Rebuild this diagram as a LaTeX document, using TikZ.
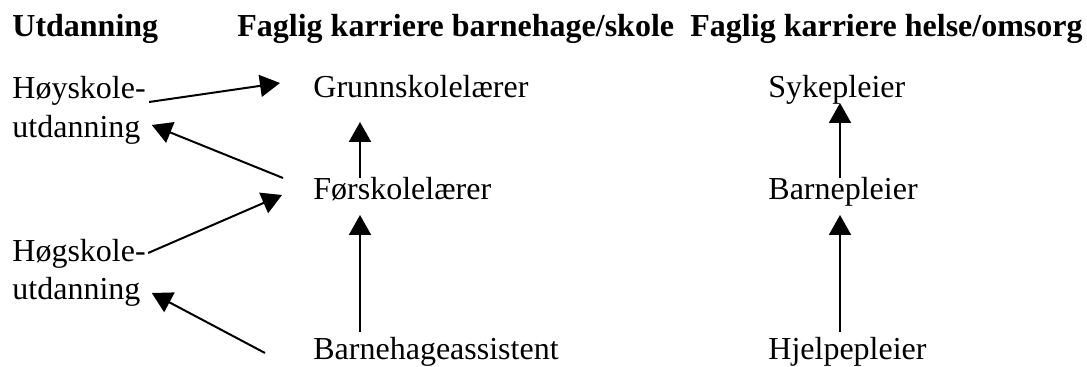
\documentclass[tikz,border=0pt]{standalone}
\usepackage{fontspec}
\setmainfont{Liberation Serif}
\usepackage{tikz}
\usetikzlibrary{arrows.meta}

\begin{document}
\begin{tikzpicture}[
  x=0.5pt, y=-0.5pt,
  every node/.style={inner sep=0pt, anchor=base west, font=\fontsize{16}{19.5}\selectfont},
  headnode/.style={font=\fontsize{16}{19.5}\selectfont\bfseries},
  careerarrow/.style={-{Triangle[length=10pt, width=11pt]}, line width=1pt}
]
\useasboundingbox (0,0) rectangle (1087,367);

% Column headings
\node[headnode] (utdhead) at (12,37) {Utdanning};
\node[headnode] (skolehead) at (237,37) {Faglig karriere barnehage/skole};
\node[headnode] (helsehead) at (690,37) {Faglig karriere helse/omsorg};

% Education
\node (hoy1) at (12,99) {Høyskole-};
\node (hoy2) at (12,138) {utdanning};
\node (hog1) at (12,262) {Høgskole-};
\node (hog2) at (12,300) {utdanning};

% Kindergarten/school career
\node (grunn) at (313,98) {Grunnskolelærer};
\node (forsk) at (313,200) {Førskolelærer};
\node (bass) at (313,360) {Barnehageassistent};

% Health/care career
\node (syke) at (768,98) {Sykepleier};
\node (barnp) at (768,200) {Barnepleier};
\node (hjelp) at (768,360) {Hjelpepleier};

% Arrows to and from education
\draw[careerarrow] ([shift={(3,3)}]hoy1.base east) -- ([shift={(-33,-15)}]grunn.base west);
\draw[careerarrow] ([shift={(-30,-22)}]forsk.base west) -- ([shift={(11,-13)}]hoy2.base east);
\draw[careerarrow] ([shift={(2,-9)}]hog1.base east) -- ([shift={(-31,-5)}]forsk.base west);
\draw[careerarrow] ([shift={(-48,-7)}]bass.base west) -- ([shift={(11,-7)}]hog2.base east);

% Career steps
\draw[careerarrow] ([shift={(47,-22)}]forsk.base west) -- ([shift={(47,24)}]grunn.base west);
\draw[careerarrow] ([shift={(47,-28)}]bass.base west) -- ([shift={(47,15)}]forsk.base west);
\draw[careerarrow] ([shift={(72,-22)}]barnp.base west) -- ([shift={(72,5)}]syke.base west);
\draw[careerarrow] ([shift={(72,-28)}]hjelp.base west) -- ([shift={(72,15)}]barnp.base west);
\end{tikzpicture}
\end{document}
